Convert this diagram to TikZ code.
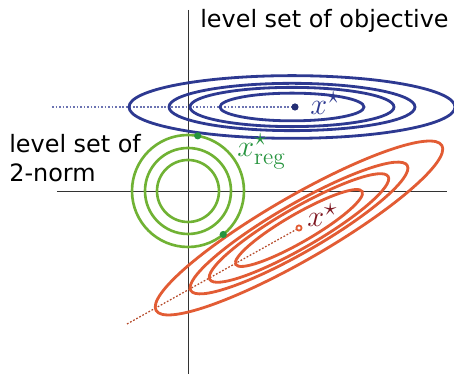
\documentclass[tikz,border=0pt]{standalone}
\usepackage{amsmath}
\usepackage{amssymb}
\usepackage{fontspec}
\setsansfont{DejaVu Sans}
\usepackage{tikz}

\definecolor{objblue}{RGB}{45,57,145}
\definecolor{normgreen}{RGB}{112,178,52}
\definecolor{reggreen}{RGB}{38,148,62}
\definecolor{lsred}{RGB}{226,92,52}
\definecolor{lsdark}{RGB}{125,22,32}

\begin{document}
\begin{tikzpicture}[x=0.02cm, y=0.02cm, >=stealth]
            \useasboundingbox (-188,-183) rectangle (266,191);
            % Trục tọa độ
            \draw[line width=0.55pt, black!80] (-131,0) -- (259,0);
            \draw[line width=0.55pt, black!80] (0,181) -- (0,-183);

            % Tâm các họ elip
            \coordinate (B) at (104,84);
            \coordinate (Bdot) at (107,84);
            \coordinate (R) at (111,-37);
            \coordinate (Bfar) at (-136,84);
            \coordinate (Rfar) at (-61,-133);

            % Đường nét đứt tới nghiệm
            \draw[objblue!70, line width=0.7pt, dash pattern=on 1pt off 1pt] (Bfar) -- (Bdot);
            \draw[lsred!80!black, line width=0.7pt, dash pattern=on 1pt off 1pt] (Rfar) -- (R);

            % Đường mức của chuẩn 2
            \foreach \r in {31,43,56}
                \draw[normgreen, line width=1.5pt] (0,0) circle (\r);

            % Đường mức của hàm mục tiêu
            \foreach \r in {72,102,123,163}
                \draw[objblue, line width=1.6pt] (B) ellipse [x radius=\r, y radius=\r/5.2];
            \begin{scope}[shift={(R)}, rotate=30]
                \foreach \r in {73,103,125,165}
                    \draw[lsred, line width=1.6pt] (0,0) ellipse [x radius=\r, y radius=\r/5.2];
            \end{scope}

            % Các điểm nghiệm
            \fill[objblue!80!black] (Bdot) circle (3.6);
            \draw[lsred, line width=1pt, fill=white] (R) circle (2.6);
            \fill[reggreen] (80:56) circle (3.6) coordinate (G1);
            \fill[reggreen] (-51:56) circle (3.6) coordinate (G2);

            % Nhãn
            \node[anchor=base west, inner sep=0, font=\sffamily\fontsize{13.6}{17}\selectfont] (objtxt) at (12,163) {level set of objective};
            \node[anchor=base west, inner sep=0, font=\sffamily\fontsize{13.6}{17}\selectfont, align=left] (normtxt) at (-179,9) {level set of\\2-norm};
            \node[anchor=base west, inner sep=0, font=\fontsize{19}{22}\selectfont, text=objblue] (xb) at (122,76) {$x^\star$};
            \node[anchor=base west, inner sep=0, font=\fontsize{19}{22}\selectfont, text=lsdark] (xr) at (119,-36) {$x^\star$};
            \node[anchor=base west, inner sep=0, font=\fontsize{19}{22}\selectfont, text=reggreen] (xg) at (49,34) {$x^\star_{\mathrm{reg}}$};
        \end{tikzpicture}
\end{document}
